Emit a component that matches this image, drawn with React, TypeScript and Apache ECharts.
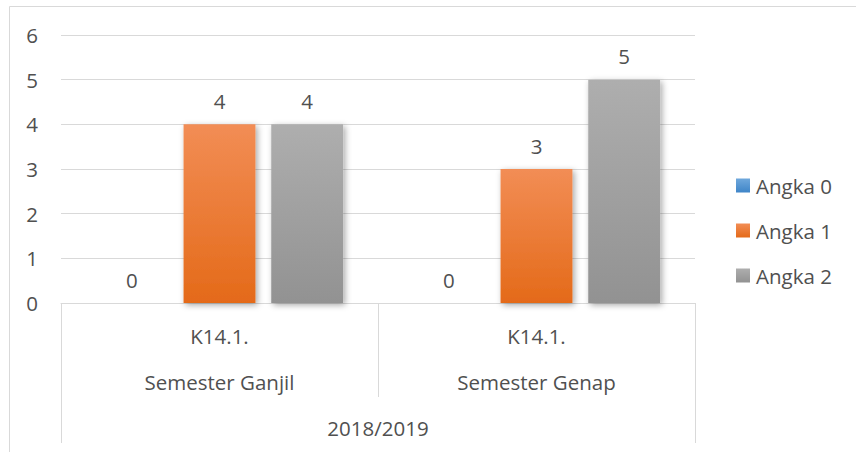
import React, { useEffect, useRef } from "react";
import * as echarts from "echarts";

const codes = ["K14.1.", "K14.1."];
const semesters = ["Semester Ganjil", "Semester Genap"];
const year = "2018/2019";
const seriesNames = ["Angka 0", "Angka 1", "Angka 2"];
const angka0 = [0, 0];
const angka1 = [4, 3];
const angka2 = [4, 5];
const yTicks = [0, 1, 2, 3, 4, 5, 6];

const FONT = "Open Sans";
const TEXT = "#505050";
const LINE = "#d9d9d9";
const FS = 20.5;

function grad(top: string, bottom: string) {
  return new echarts.graphic.LinearGradient(0, 0, 0, 1, [
    { offset: 0, color: top },
    { offset: 1, color: bottom },
  ]);
}

export default function App() {
  const ref = useRef<HTMLDivElement>(null);
  useEffect(() => {
    if (!ref.current) return;
    const chart = echarts.init(ref.current, null, { renderer: "svg" });
    const categories = codes.map((c, i) => c + "\n" + semesters[i]);
    const colors = [
      grad("#6fa8dc", "#3f85c8"),
      grad("#f28d55", "#e46a19"),
      grad("#aeaeae", "#929292"),
    ];
    const values = [angka0, angka1, angka2];
    chart.setOption({
      animation: false,
      textStyle: { fontFamily: FONT },
      graphic: [
        {
          type: "rect",
          shape: { x: 9.5, y: 6.5, width: 1000, height: 1000 },
          style: { fill: "none", stroke: LINE, lineWidth: 1 },
          silent: true,
        },
      ],
      legend: {
        orient: "vertical",
        left: 736,
        top: 175,
        padding: 0,
        itemWidth: 14,
        itemHeight: 14,
        itemGap: 24,
        icon: "rect",
        textStyle: { fontFamily: FONT, fontSize: 20.5, color: TEXT, padding: [0, 0, 0, 1] },
        data: seriesNames,
      },
      grid: { left: 61, right: 161, top: 35, bottom: 149 },
      yAxis: {
        type: "value",
        min: yTicks[0],
        max: yTicks[yTicks.length - 1],
        interval: 1,
        axisLine: { show: false },
        axisTick: { show: false },
        axisLabel: { fontFamily: FONT, fontSize: FS, color: TEXT, margin: 23 },
        splitLine: { lineStyle: { color: LINE, width: 1 } },
      },
      xAxis: [
        {
          type: "category",
          position: "bottom",
          data: categories,
          axisLine: { lineStyle: { color: LINE, width: 1 } },
          axisTick: { show: true, length: 94, alignWithLabel: false, lineStyle: { color: LINE } },
          axisLabel: {
            fontFamily: FONT,
            fontSize: FS,
            color: TEXT,
            margin: 10,
            lineHeight: 46,
            interval: 0,
          },
        },
        {
          type: "category",
          position: "bottom",
          offset: 0,
          data: [year],
          axisLine: { show: false },
          axisTick: { show: true, length: 140, alignWithLabel: false, lineStyle: { color: LINE } },
          axisLabel: {
            fontFamily: FONT,
            fontSize: FS,
            color: TEXT,
            margin: 115,
            lineHeight: 20,
          },
        },
      ],
      series: seriesNames.map((name, i) => ({
        name,
        type: "bar",
        xAxisIndex: 0,
        data: values[i],
        barGap: "22%",
        barCategoryGap: "22%",
        itemStyle: {
          color: colors[i],
          shadowBlur: 6,
          shadowColor: "rgba(0,0,0,0.35)",
          shadowOffsetX: 2,
          shadowOffsetY: 2,
        },
        label: {
          show: true,
          position: "top",
          distance: 13,
          fontFamily: FONT,
          fontSize: FS,
          color: TEXT,
        },
      })),
    });
    return () => chart.dispose();
  }, []);
  return (
    <div
      ref={ref}
      style={{ position: "fixed", left: 0, top: 0, width: 856, height: 452, background: "#fff" }}
    />
  );
}
